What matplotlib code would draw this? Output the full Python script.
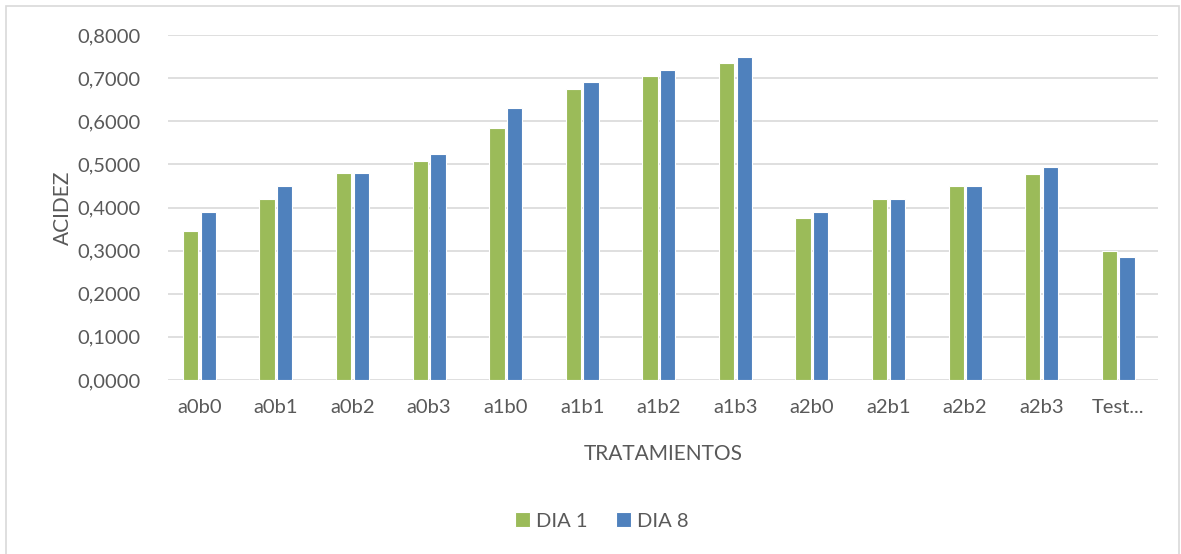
import matplotlib
matplotlib.use("Agg")
import matplotlib.pyplot as plt
from matplotlib.patches import Rectangle
from matplotlib.ticker import FuncFormatter
import numpy as np

# datos de acidez por tratamiento
tratamientos = ['a0b0', 'a0b1', 'a0b2', 'a0b3', 'a1b0', 'a1b1', 'a1b2',
                'a1b3', 'a2b0', 'a2b1', 'a2b2', 'a2b3', 'Test...']
dia_1 = [0.345, 0.420, 0.480, 0.508, 0.585, 0.675, 0.704, 0.734,
         0.375, 0.420, 0.450, 0.478, 0.300]
dia_8 = [0.390, 0.450, 0.480, 0.523, 0.630, 0.690, 0.719, 0.749,
         0.390, 0.420, 0.450, 0.493, 0.285]
y_ticks = [0.0, 0.1, 0.2, 0.3, 0.4, 0.5, 0.6, 0.7, 0.8]

verde = '#9bbb59'
azul = '#4f81bd'
gris_texto = '#595959'

plt.rcParams['font.family'] = ['Lato', 'DejaVu Sans']

W, H = 1181, 554
fig = plt.figure(figsize=(W / 100, H / 100), dpi=100)
fig.patches.append(Rectangle((6 / W, -0.01), (W - 8) / W, 1 - 6 / H + 0.01,
                             transform=fig.transFigure, fill=False,
                             edgecolor='#d9d9d9', linewidth=1.2))

ax = fig.add_axes([168 / W, 1 - 380 / H, (1158 - 168) / W, (380 - 35) / H])

x = np.arange(len(tratamientos))
ancho = 0.2
ax.bar(x - 0.115, dia_1, ancho, color=verde, edgecolor='white', linewidth=0.8,
       label='DIA 1', zorder=3)
ax.bar(x + 0.115, dia_8, ancho, color=azul, edgecolor='white', linewidth=0.8,
       label='DIA 8', zorder=3)

ax.set_xlim(-0.41, 12.52)
ax.set_ylim(0, 0.8)
ax.set_yticks(y_ticks)
ax.yaxis.set_major_formatter(FuncFormatter(lambda v, p: f'{v:.4f}'.replace('.', ',')))
ax.set_xticks(x)
ax.set_xticklabels(tratamientos)

ax.grid(axis='y', color='#d9d9d9', linewidth=1.2, zorder=0)
for s in ax.spines.values():
    s.set_visible(False)
ax.tick_params(axis='both', length=0, labelsize=14.5, colors=gris_texto)
ax.tick_params(axis='y', pad=20)
ax.tick_params(axis='x', pad=14)

ax.set_ylabel('ACIDEZ', fontsize=15, color=gris_texto, labelpad=3)
ax.set_xlabel('TRATAMIENTOS', fontsize=15, color=gris_texto, labelpad=20)

leg = fig.legend(loc='center', bbox_to_anchor=(602 / W, 1 - 521 / H), ncol=2,
                 frameon=False, fontsize=14.5, handlelength=0.75,
                 handleheight=0.75, handletextpad=0.3, columnspacing=1.4)
for t in leg.get_texts():
    t.set_color(gris_texto)

fig.savefig('out.png', dpi=100, facecolor='white')
